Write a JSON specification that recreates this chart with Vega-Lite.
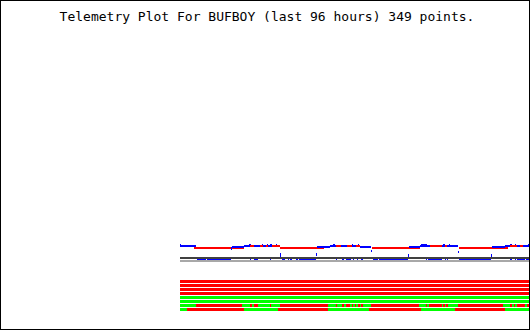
{
  "$schema": "https://vega.github.io/schema/vega-lite/v6.json",
  "width": 530,
  "height": 330,
  "autosize": {"type": "none"},
  "padding": 0,
  "background": "#ffffff",
  "config": {"view": {"stroke": "#000000", "strokeWidth": 2}},
  "title": {
    "text": "Telemetry Plot For BUFBOY (last 96 hours) 349 points.",
    "font": "DejaVu Sans Mono",
    "fontSize": 13,
    "fontWeight": "normal",
    "color": "#000000",
    "anchor": "middle",
    "frame": "group",
    "offset": 0,
    "dx": 2,
    "dy": 24
  },
  "datasets": {
    "status": [
      {"channel": 1, "start": 0, "end": 349, "state": "fault"},
      {"channel": 2, "start": 0, "end": 349, "state": "fault"},
      {"channel": 3, "start": 0, "end": 349, "state": "fault"},
      {"channel": 4, "start": 0, "end": 349, "state": "fault"},
      {"channel": 5, "start": 0, "end": 349, "state": "ok"},
      {"channel": 6, "start": 0, "end": 349, "state": "ok"},
      {"channel": 7, "start": 0, "end": 16, "state": "ok"},
      {"channel": 7, "start": 16, "end": 62, "state": "fault"},
      {"channel": 7, "start": 62, "end": 70, "state": "ok"},
      {"channel": 7, "start": 70, "end": 72, "state": "fault"},
      {"channel": 7, "start": 72, "end": 74, "state": "ok"},
      {"channel": 7, "start": 74, "end": 78, "state": "fault"},
      {"channel": 7, "start": 78, "end": 90, "state": "ok"},
      {"channel": 7, "start": 90, "end": 91, "state": "fault"},
      {"channel": 7, "start": 91, "end": 100, "state": "ok"},
      {"channel": 7, "start": 100, "end": 148, "state": "fault"},
      {"channel": 7, "start": 148, "end": 156, "state": "ok"},
      {"channel": 7, "start": 156, "end": 157, "state": "fault"},
      {"channel": 7, "start": 157, "end": 162, "state": "ok"},
      {"channel": 7, "start": 162, "end": 164, "state": "fault"},
      {"channel": 7, "start": 164, "end": 166, "state": "ok"},
      {"channel": 7, "start": 166, "end": 170, "state": "fault"},
      {"channel": 7, "start": 170, "end": 172, "state": "ok"},
      {"channel": 7, "start": 172, "end": 173, "state": "fault"},
      {"channel": 7, "start": 173, "end": 175, "state": "ok"},
      {"channel": 7, "start": 175, "end": 176, "state": "fault"},
      {"channel": 7, "start": 176, "end": 178, "state": "ok"},
      {"channel": 7, "start": 178, "end": 180, "state": "fault"},
      {"channel": 7, "start": 180, "end": 181, "state": "ok"},
      {"channel": 7, "start": 181, "end": 183, "state": "fault"},
      {"channel": 7, "start": 183, "end": 191, "state": "ok"},
      {"channel": 7, "start": 191, "end": 239, "state": "fault"},
      {"channel": 7, "start": 239, "end": 246, "state": "ok"},
      {"channel": 7, "start": 246, "end": 247, "state": "fault"},
      {"channel": 7, "start": 247, "end": 249, "state": "ok"},
      {"channel": 7, "start": 249, "end": 262, "state": "fault"},
      {"channel": 7, "start": 262, "end": 263, "state": "ok"},
      {"channel": 7, "start": 263, "end": 265, "state": "fault"},
      {"channel": 7, "start": 265, "end": 266, "state": "ok"},
      {"channel": 7, "start": 266, "end": 268, "state": "fault"},
      {"channel": 7, "start": 268, "end": 278, "state": "ok"},
      {"channel": 7, "start": 278, "end": 323, "state": "fault"},
      {"channel": 7, "start": 323, "end": 330, "state": "ok"},
      {"channel": 7, "start": 330, "end": 332, "state": "fault"},
      {"channel": 7, "start": 332, "end": 334, "state": "ok"},
      {"channel": 7, "start": 334, "end": 335, "state": "fault"},
      {"channel": 7, "start": 335, "end": 337, "state": "ok"},
      {"channel": 7, "start": 337, "end": 345, "state": "fault"},
      {"channel": 7, "start": 345, "end": 347, "state": "ok"},
      {"channel": 7, "start": 347, "end": 349, "state": "fault"},
      {"channel": 8, "start": 0, "end": 7, "state": "ok"},
      {"channel": 8, "start": 7, "end": 64, "state": "fault"},
      {"channel": 8, "start": 64, "end": 98, "state": "ok"},
      {"channel": 8, "start": 98, "end": 148, "state": "fault"},
      {"channel": 8, "start": 148, "end": 189, "state": "ok"},
      {"channel": 8, "start": 189, "end": 241, "state": "fault"},
      {"channel": 8, "start": 241, "end": 275, "state": "ok"},
      {"channel": 8, "start": 275, "end": 325, "state": "fault"},
      {"channel": 8, "start": 325, "end": 349, "state": "ok"}
    ],
    "trace": [
      {"series": "ref upper", "start": 0, "end": 349, "lo": 3, "hi": 5},
      {"series": "ref lower", "start": 0, "end": 349, "lo": 0, "hi": 2},
      {"series": "series 3", "start": 17, "end": 26, "lo": 2, "hi": 3},
      {"series": "series 3", "start": 27, "end": 51, "lo": 2, "hi": 3},
      {"series": "series 3", "start": 70, "end": 71, "lo": 2, "hi": 3},
      {"series": "series 3", "start": 74, "end": 78, "lo": 2, "hi": 3},
      {"series": "series 3", "start": 90, "end": 91, "lo": 2, "hi": 3},
      {"series": "series 3", "start": 102, "end": 105, "lo": 2, "hi": 3},
      {"series": "series 3", "start": 108, "end": 109, "lo": 2, "hi": 3},
      {"series": "series 3", "start": 110, "end": 112, "lo": 2, "hi": 3},
      {"series": "series 3", "start": 116, "end": 118, "lo": 2, "hi": 3},
      {"series": "series 3", "start": 119, "end": 136, "lo": 2, "hi": 3},
      {"series": "series 3", "start": 156, "end": 157, "lo": 2, "hi": 3},
      {"series": "series 3", "start": 162, "end": 164, "lo": 2, "hi": 3},
      {"series": "series 3", "start": 166, "end": 171, "lo": 2, "hi": 3},
      {"series": "series 3", "start": 173, "end": 174, "lo": 2, "hi": 3},
      {"series": "series 3", "start": 177, "end": 178, "lo": 2, "hi": 3},
      {"series": "series 3", "start": 181, "end": 183, "lo": 2, "hi": 3},
      {"series": "series 3", "start": 193, "end": 198, "lo": 2, "hi": 3},
      {"series": "series 3", "start": 199, "end": 228, "lo": 2, "hi": 3},
      {"series": "series 3", "start": 246, "end": 247, "lo": 2, "hi": 3},
      {"series": "series 3", "start": 248, "end": 262, "lo": 2, "hi": 3},
      {"series": "series 3", "start": 265, "end": 266, "lo": 2, "hi": 3},
      {"series": "series 3", "start": 267, "end": 268, "lo": 2, "hi": 3},
      {"series": "series 3", "start": 279, "end": 311, "lo": 2, "hi": 3},
      {"series": "series 3", "start": 330, "end": 332, "lo": 2, "hi": 3},
      {"series": "series 3", "start": 335, "end": 336, "lo": 2, "hi": 3},
      {"series": "series 3", "start": 337, "end": 345, "lo": 2, "hi": 3},
      {"series": "series 3", "start": 346, "end": 349, "lo": 2, "hi": 3},
      {"series": "series 2", "start": 14, "end": 64, "lo": 13, "hi": 15},
      {"series": "series 2", "start": 100, "end": 144, "lo": 13, "hi": 15},
      {"series": "series 2", "start": 192, "end": 240, "lo": 13, "hi": 15},
      {"series": "series 2", "start": 279, "end": 328, "lo": 13, "hi": 15},
      {"series": "series 1", "start": 0, "end": 16, "lo": 15, "hi": 17},
      {"series": "series 1", "start": 0, "end": 1, "lo": 17, "hi": 18},
      {"series": "series 1", "start": 51, "end": 52, "lo": 12, "hi": 15},
      {"series": "series 1", "start": 52, "end": 64, "lo": 14, "hi": 16},
      {"series": "series 1", "start": 64, "end": 100, "lo": 15, "hi": 17},
      {"series": "series 1", "start": 69, "end": 71, "lo": 17, "hi": 18},
      {"series": "series 1", "start": 82, "end": 83, "lo": 17, "hi": 18},
      {"series": "series 1", "start": 87, "end": 88, "lo": 17, "hi": 18},
      {"series": "series 1", "start": 90, "end": 92, "lo": 17, "hi": 18},
      {"series": "series 1", "start": 96, "end": 97, "lo": 17, "hi": 18},
      {"series": "series 1", "start": 100, "end": 101, "lo": 5, "hi": 9},
      {"series": "series 1", "start": 136, "end": 137, "lo": 6, "hi": 9},
      {"series": "series 1", "start": 137, "end": 150, "lo": 14, "hi": 16},
      {"series": "series 1", "start": 150, "end": 180, "lo": 15, "hi": 17},
      {"series": "series 1", "start": 153, "end": 155, "lo": 17, "hi": 18},
      {"series": "series 1", "start": 172, "end": 173, "lo": 17, "hi": 18},
      {"series": "series 1", "start": 178, "end": 179, "lo": 17, "hi": 18},
      {"series": "series 1", "start": 180, "end": 191, "lo": 14, "hi": 16},
      {"series": "series 1", "start": 191, "end": 192, "lo": 10, "hi": 12},
      {"series": "series 1", "start": 228, "end": 229, "lo": 5, "hi": 8},
      {"series": "series 1", "start": 229, "end": 240, "lo": 14, "hi": 16},
      {"series": "series 1", "start": 240, "end": 278, "lo": 15, "hi": 17},
      {"series": "series 1", "start": 241, "end": 247, "lo": 17, "hi": 18},
      {"series": "series 1", "start": 263, "end": 265, "lo": 17, "hi": 18},
      {"series": "series 1", "start": 269, "end": 270, "lo": 17, "hi": 18},
      {"series": "series 1", "start": 278, "end": 279, "lo": 9, "hi": 11},
      {"series": "series 1", "start": 311, "end": 312, "lo": 5, "hi": 8},
      {"series": "series 1", "start": 312, "end": 325, "lo": 14, "hi": 16},
      {"series": "series 1", "start": 325, "end": 349, "lo": 15, "hi": 17},
      {"series": "series 1", "start": 330, "end": 332, "lo": 17, "hi": 18},
      {"series": "series 1", "start": 335, "end": 336, "lo": 17, "hi": 18},
      {"series": "series 1", "start": 348, "end": 349, "lo": 17, "hi": 18},
      {"series": "series 2", "start": 70, "end": 74, "lo": 15, "hi": 17},
      {"series": "series 2", "start": 80, "end": 83, "lo": 15, "hi": 17},
      {"series": "series 2", "start": 86, "end": 88, "lo": 15, "hi": 17},
      {"series": "series 2", "start": 92, "end": 100, "lo": 15, "hi": 17},
      {"series": "series 2", "start": 156, "end": 161, "lo": 15, "hi": 17},
      {"series": "series 2", "start": 167, "end": 172, "lo": 15, "hi": 17},
      {"series": "series 2", "start": 176, "end": 180, "lo": 15, "hi": 17},
      {"series": "series 2", "start": 250, "end": 262, "lo": 15, "hi": 17},
      {"series": "series 2", "start": 265, "end": 267, "lo": 15, "hi": 17},
      {"series": "series 2", "start": 330, "end": 337, "lo": 15, "hi": 17},
      {"series": "series 2", "start": 340, "end": 343, "lo": 15, "hi": 17}
    ]
  },
  "layer": [
    {
      "data": {"name": "status"},
      "mark": {"type": "rect"},
      "encoding": {
        "x": {"field": "start", "type": "quantitative", "scale": {"domain": [-180, 350], "nice": false, "zero": false}, "axis": null},
        "x2": {"field": "end"},
        "y": {"field": "channel", "type": "ordinal", "scale": {"type": "band", "range": [279.5, 311.5], "paddingInner": 0.25, "paddingOuter": 0.125}, "axis": null},
        "color": {
          "field": "state", "type": "nominal", "legend": null,
          "scale": {
            "domain": ["ok", "fault", "series 1", "series 2", "series 3", "ref upper", "ref lower"],
            "range": ["#00ff00", "#ff0000", "#0000ff", "#ff0000", "#0000ff", "#404040", "#a8a8a8"]
          }
        }
      }
    },
    {
      "data": {"name": "trace"},
      "mark": {"type": "rect"},
      "encoding": {
        "x": {"field": "start", "type": "quantitative", "scale": {"domain": [-180, 350], "nice": false, "zero": false}, "axis": null},
        "x2": {"field": "end"},
        "y": {"field": "lo", "type": "quantitative", "scale": {"domain": [-68, 262], "nice": false, "zero": false}, "axis": null},
        "y2": {"field": "hi"},
        "color": {
          "field": "series", "type": "nominal", "legend": null,
          "scale": {
            "domain": ["ok", "fault", "series 1", "series 2", "series 3", "ref upper", "ref lower"],
            "range": ["#00ff00", "#ff0000", "#0000ff", "#ff0000", "#0000ff", "#404040", "#a8a8a8"]
          }
        }
      }
    }
  ],
  "resolve": {"scale": {"y": "independent"}}
}
